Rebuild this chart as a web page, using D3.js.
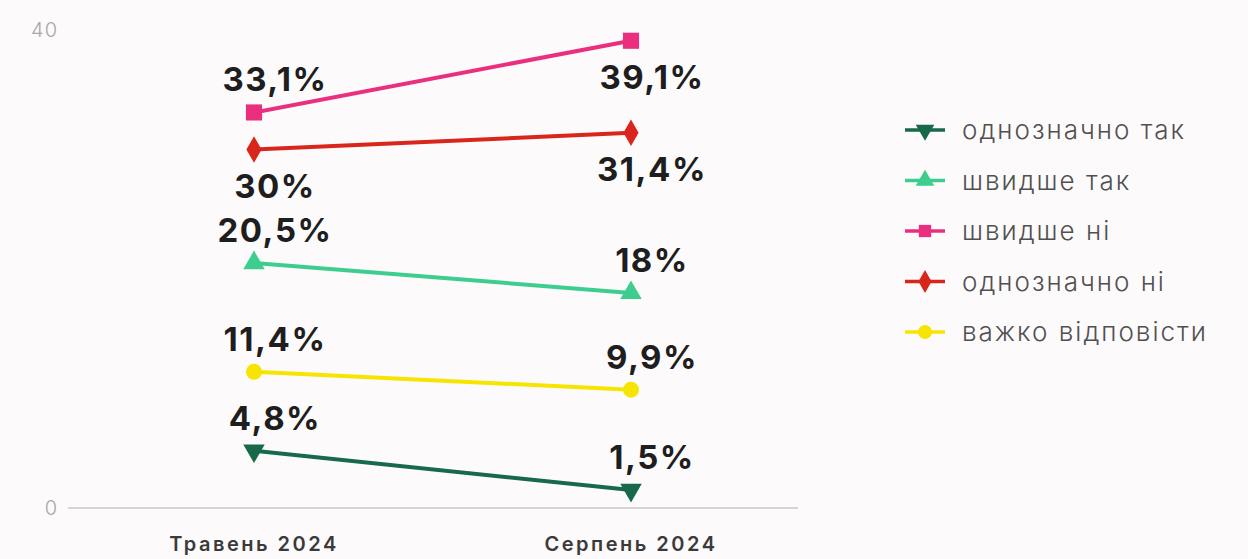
<!DOCTYPE html>
<html><head><meta charset="utf-8">
<script src="https://cdn.jsdelivr.net/npm/d3@7"></script>
<style>html,body{margin:0;padding:0;background:#fdfafc;}svg{display:block;}</style>
</head><body>
<svg id="c" width="1248" height="559"></svg>
<script>
const categories = ["Травень 2024", "Серпень 2024"];
const seriesNames = ["однозначно так", "швидше так", "швидше ні", "однозначно ні", "важко відповісти"];
const valsDefinitelyYes = [4.8, 1.5];
const valsRatherYes = [20.5, 18];
const valsRatherNo = [33.1, 39.1];
const valsDefinitelyNo = [30, 31.4];
const valsHardToSay = [11.4, 9.9];
const yTicks = [0, 40];
const labelAbove = [[true, true], [true, true], [true, false], [false, false], [true, true]];

const seriesValues = [valsDefinitelyYes, valsRatherYes, valsRatherNo, valsDefinitelyNo, valsHardToSay];
const colors = ["#17694a", "#3ccd8f", "#ea2f7f", "#d9261c", "#f7e400"];
const symbols = [d3.symbolTriangle, d3.symbolTriangle, d3.symbolSquare, d3.symbolDiamond, d3.symbolCircle];
const rotations = [180, 0, 0, 0, 0];

const svg = d3.select("#c");
const x = d3.scalePoint().domain(categories).range([254, 631]);
const y = d3.scaleLinear().domain([0, 40]).range([508, 30]);

// baseline
svg.append("line").attr("x1", 68).attr("x2", 798).attr("y1", y(0)).attr("y2", y(0))
  .attr("stroke", "#c9c9c9").attr("stroke-width", 1.5);

// y ticks
svg.selectAll(".yt").data(yTicks).enter().append("text")
  .attr("x", 58).attr("y", d => y(d)).attr("dy", "0.35em").attr("text-anchor", "end")
  .attr("font-family", "Inter, sans-serif").attr("font-size", 20).attr("font-weight", 300)
  .attr("fill", "#a8a8a8").attr("letter-spacing", 1).text(d => d);

// x labels
svg.selectAll(".xt").data(categories).enter().append("text")
  .attr("x", d => x(d)).attr("y", 551).attr("text-anchor", "middle")
  .attr("font-family", "Inter, sans-serif").attr("font-size", 20).attr("font-weight", 600)
  .attr("fill", "#3a3a3a").attr("letter-spacing", 2.5).text(d => d);

const line = d3.line().x((d, i) => x(categories[i])).y(d => y(d));

seriesValues.forEach((vals, s) => {
  const g = svg.append("g");
  g.append("path").datum(vals).attr("d", line).attr("fill", "none")
    .attr("stroke", colors[s]).attr("stroke-width", 4);
  g.selectAll("path.m").data(vals).enter().append("path").attr("class", "m")
    .attr("d", d3.symbol().type(symbols[s]).size(symbols[s] === d3.symbolTriangle ? 200 : (symbols[s] === d3.symbolSquare ? 260 : 200)))
    .attr("transform", (d, i) => `translate(${x(categories[i])},${y(d)}) rotate(${rotations[s]})`)
    .attr("fill", colors[s]);
  g.selectAll("text").data(vals).enter().append("text")
    .attr("x", (d, i) => x(categories[i]) + 21)
    .attr("y", (d, i) => y(d) + (labelAbove[s][i] ? -21 : 48))
    .attr("text-anchor", "middle")
    .attr("font-family", "Inter, sans-serif").attr("font-size", 33).attr("font-weight", 700)
    .attr("fill", "#1e1e1e").attr("letter-spacing", 1.5)
    .text(d => String(d).replace(".", ",") + "%");
});

// legend
const lg = svg.append("g").attr("transform", "translate(905,130)");
seriesNames.forEach((name, s) => {
  const row = lg.append("g").attr("transform", `translate(0,${s * 50.5})`);
  row.append("line").attr("x1", 0).attr("x2", 40).attr("stroke", colors[s]).attr("stroke-width", 3.5);
  row.append("path").attr("d", d3.symbol().type(symbols[s]).size(150))
    .attr("transform", `translate(20,0) rotate(${rotations[s]})`).attr("fill", colors[s]);
  row.append("text").attr("x", 57).attr("dy", "0.35em")
    .attr("font-family", "Inter, sans-serif").attr("font-size", 26).attr("font-weight", 300)
    .attr("fill", "#505050").attr("letter-spacing", 2).text(name);
});
</script>
</body></html>
